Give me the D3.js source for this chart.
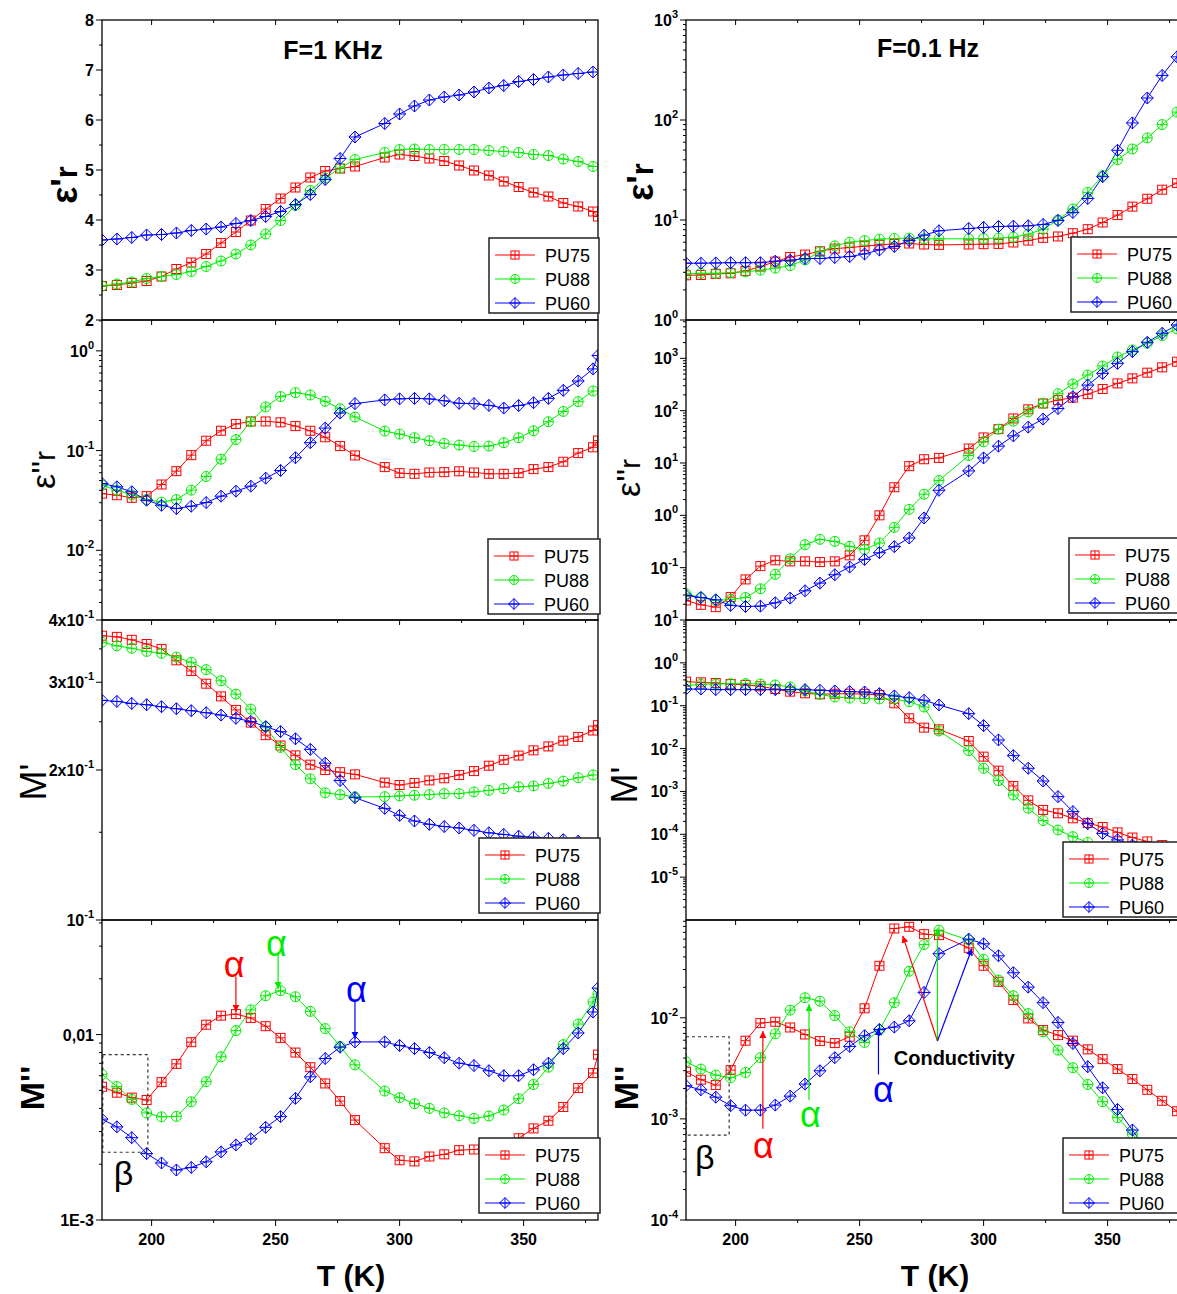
<!DOCTYPE html>
<html>
<head>
<meta charset="utf-8">
<title>PU dielectric / modulus</title>
<script src="https://cdnjs.cloudflare.com/ajax/libs/d3/7.8.5/d3.min.js"></script>
<style>
  body { margin: 0; background: #fff; }
  svg { display: block; font-family: "Liberation Sans", Arial, sans-serif; }
</style>
</head>
<body>
<script>
// temperature grid (K), 288 K was not measured
const T = [180,186,192,198,204,210,216,222,228,234,240,246,252,258,264,270,276,282,
           294,300,306,312,318,324,330,336,342,348,354,360,366,372,378,380];
const names = ['PU75', 'PU88', 'PU60'];
const colors = ['#ff0000', '#00ee00', '#0000ff'];

// F = 1 kHz
const eps1k_PU75 = [2.68,2.70,2.74,2.78,2.87,3.02,3.15,3.32,3.54,3.76,3.99,4.22,4.43,4.65,4.85,4.98,5.03,5.07,
  5.25,5.31,5.28,5.23,5.18,5.09,4.99,4.89,4.77,4.66,4.55,4.47,4.34,4.27,4.17,4.07];
const eps1k_PU88 = [2.68,2.72,2.76,2.83,2.87,2.91,2.97,3.07,3.18,3.32,3.50,3.72,3.99,4.29,4.59,4.84,5.04,5.21,
  5.35,5.41,5.42,5.41,5.41,5.41,5.41,5.39,5.37,5.35,5.31,5.29,5.22,5.17,5.07,null];
const eps1k_PU60 = [3.60,3.62,3.65,3.70,3.71,3.74,3.79,3.82,3.86,3.93,3.99,4.07,4.17,4.31,4.51,4.81,5.23,5.66,
  5.93,6.12,6.28,6.40,6.46,6.50,6.56,6.64,6.69,6.77,6.81,6.86,6.90,6.93,6.96,null];

const epsL1k_PU75 = [0.037,0.0357,0.0336,0.0349,0.0457,0.0622,0.090,0.1255,0.158,0.185,0.196,0.196,0.192,0.176,0.158,0.136,0.111,0.0894,
  0.0683,0.0594,0.0585,0.0603,0.0608,0.062,0.0603,0.0585,0.0585,0.0594,0.0652,0.0683,0.0773,0.0944,0.108,0.126];
const epsL1k_PU88 = [0.045,0.0401,0.036,0.0323,0.0304,0.0323,0.0401,0.055,0.082,0.129,0.195,0.274,0.348,0.381,0.361,0.312,0.263,0.217,
  0.157,0.1465,0.1346,0.1255,0.118,0.1136,0.110,0.111,0.12,0.1346,0.158,0.195,0.247,0.31,0.396,null];
const epsL1k_PU60 = [0.0468,0.0433,0.0386,0.0318,0.0283,0.0262,0.0277,0.0301,0.0349,0.0392,0.044,0.0529,0.0632,0.0848,0.12,0.168,0.238,0.296,
  0.322,0.330,0.334,0.33,0.316,0.298,0.296,0.284,0.267,0.283,0.302,0.334,0.402,0.499,0.659,0.898];

const mod1k_PU75 = [0.372,0.370,0.365,0.358,0.350,0.332,0.316,0.298,0.281,0.264,0.249,0.235,0.224,0.214,0.205,0.200,0.198,0.196,
  0.1887,0.1866,0.1884,0.1906,0.1925,0.1954,0.199,0.204,0.2096,0.2138,0.219,0.223,0.229,0.233,0.240,0.246];
const mod1k_PU88 = [0.361,0.355,0.351,0.346,0.343,0.337,0.329,0.318,0.302,0.284,0.265,0.244,0.222,0.205,0.192,0.180,0.1785,0.1766,
  0.1768,0.1774,0.178,0.1785,0.1793,0.1793,0.1807,0.182,0.1835,0.185,0.1858,0.188,0.190,0.193,0.1955,null];
const mod1k_PU60 = [0.276,0.2746,0.272,0.2704,0.2679,0.2654,0.263,0.2606,0.2578,0.254,0.2503,0.2443,0.2388,0.231,0.220,0.2064,0.1905,0.176,
  0.1675,0.1622,0.158,0.1556,0.154,0.153,0.1513,0.1496,0.1485,0.1473,0.1466,0.1458,0.1449,0.1439,0.1418,null];

const loss1k_PU75 = [0.00523,0.00486,0.00457,0.00444,0.00554,0.00695,0.0091,0.0113,0.01265,0.0129,0.0123,0.0111,0.0096,0.0080,0.00667,0.00545,0.00438,0.00346,
  0.00244,0.0021,0.00207,0.0022,0.00226,0.00238,0.0024,0.00245,0.0025,0.00276,0.00312,0.00343,0.00407,0.00515,0.0062,0.0078];
const loss1k_PU88 = [0.0061,0.00525,0.00447,0.00378,0.0036,0.00362,0.00434,0.00557,0.00759,0.0105,0.0136,0.0162,0.01724,0.016,0.01334,0.01077,0.00865,0.00687,
  0.00496,0.00457,0.00424,0.004,0.00378,0.00365,0.00353,0.00364,0.00392,0.00451,0.00538,0.00667,0.00883,0.0114,0.01498,0.01655];
const loss1k_PU60 = [0.0035,0.00318,0.00278,0.00228,0.00203,0.00186,0.00192,0.00206,0.00233,0.00254,0.00274,0.00316,0.00361,0.00453,0.00592,0.00743,0.00855,0.00913,
  0.00913,0.00873,0.0084,0.008,0.0075,0.00701,0.00681,0.00638,0.006,0.006,0.00646,0.00701,0.0084,0.0102,0.01324,0.0178];

// F = 0.1 Hz
const eps01_PU75 = [2.80,2.82,2.89,2.93,3.10,3.42,3.84,4.27,4.51,4.87,5.18,5.30,5.47,5.64,5.77,5.82,5.69,5.64,
  5.69,5.73,5.77,5.96,6.23,6.63,6.84,7.38,8.09,9.44,11.2,13.6,16.3,20.1,23.4,null];
const eps01_PU88 = [2.89,2.93,2.93,2.98,3.03,3.15,3.30,3.50,3.99,4.80,5.51,6.00,6.23,6.43,6.53,6.58,6.48,6.48,
  6.48,6.53,6.58,6.73,7.21,8.09,10.0,12.9,18.9,27.7,40.1,51.3,66.2,90.0,120,null];
const eps01_PU60 = [3.70,3.70,3.72,3.74,3.74,3.74,3.87,3.96,4.12,4.12,4.21,4.31,4.58,5.02,5.43,6.23,7.05,7.80,
  8.22,8.42,8.61,8.68,8.75,9.02,9.89,11.9,16.4,27.1,49.8,93.5,166,279,428,null];

const epsL01_PU75 = [0.0236,0.0195,0.0176,0.0274,0.0596,0.107,0.138,0.132,0.132,0.128,0.132,0.172,0.333,1.0,3.44,8.7,11.8,12.5,
  18.9,30.8,44.4,71,106,137,159,177,207,259,332,414,532,673,863,null];
const epsL01_PU88 = [0.0316,0.0269,0.0236,0.0247,0.0269,0.0395,0.0744,0.148,0.275,0.348,0.318,0.255,0.224,0.296,0.589,1.30,2.53,4.62,
  13.9,25.4,44.4,63,95,138,211,323,480,713,1061,1445,1938,2717,3645,null];
const epsL01_PU60 = [0.0294,0.0269,0.0243,0.019,0.0181,0.0184,0.0213,0.0262,0.0361,0.0507,0.0732,0.103,0.144,0.193,0.252,0.369,0.891,3.01,
  7.06,12.5,21,33,48.5,69,110,185,308,516,802,1342,2025,3010,4350,null];

const mod01_PU75 = [0.364,0.351,0.339,0.321,0.305,0.284,0.245,0.213,0.195,0.184,0.19,0.19,0.187,0.178,0.114,0.0508,0.0308,0.0281,
  0.0150,0.00648,0.00305,0.00134,0.00062,0.00037,0.000309,0.000236,0.000183,0.000148,0.000111,8.4e-5,6.8e-5,5.6e-5,3.4e-5,null];
const mod01_PU88 = [0.294,0.316,0.321,0.327,0.327,0.321,0.305,0.274,0.221,0.184,0.16,0.151,0.146,0.144,0.144,0.124,0.0934,0.0257,
  0.00895,0.00347,0.00179,0.000828,0.000405,0.000209,0.000126,8.8e-5,6.5e-5,4.8e-5,3.5e-5,2.5e-5,1.8e-5,1.35e-5,1.0e-5,null];
const mod01_PU60 = [0.245,0.245,0.237,0.237,0.237,0.237,0.237,0.237,0.237,0.229,0.221,0.213,0.209,0.191,0.169,0.154,0.134,0.104,
  0.0653,0.0343,0.0159,0.00685,0.00347,0.00175,0.000756,0.000338,0.000177,0.000105,7.4e-5,5.6e-5,4.2e-5,3.1e-5,2.1e-5,null];

const loss01_PU75 = [0.00293,0.00244,0.00216,0.00304,0.00593,0.00886,0.00913,0.00802,0.00684,0.00588,0.00562,0.00649,0.0124,0.0327,0.0764,0.0794,0.0672,0.0657,
  0.0492,0.0327,0.0227,0.015,0.00985,0.00755,0.00674,0.00593,0.00487,0.0039,0.00311,0.00248,0.00194,0.00151,0.00119,null];
const loss01_PU88 = [0.00367,0.00311,0.00271,0.00255,0.00288,0.00403,0.00695,0.0119,0.0158,0.0146,0.0105,0.00727,0.0057,0.00755,0.0141,0.0289,0.0531,0.0736,
  0.0586,0.0378,0.0236,0.0165,0.011,0.00727,0.00479,0.00321,0.00219,0.00148,0.00103,0.000709,0.00048,0.00033,0.00022,null];
const loss01_PU60 = [0.00213,0.00194,0.00164,0.00135,0.00122,0.00122,0.00137,0.00168,0.00221,0.00299,0.00403,0.00521,0.00664,0.00767,0.00809,0.00934,0.0178,0.043,
  0.06,0.0539,0.041,0.0279,0.0201,0.0141,0.00899,0.00557,0.00328,0.00203,0.00124,0.000776,0.00048,0.0003,0.00019,null];

// tick values and labels
const xTicks = [200, 250, 300, 350];
const xMinor = [225, 275, 325, 375];
const yt_eps1k = [2,3,4,5,6,7,8], yl_eps1k = ['2','3','4','5','6','7','8'];
const yt_epsL1k = [0.01,0.1,1], yl_epsL1k = ['10^-2','10^-1','10^0'];
const yt_mod1k = [0.1,0.2,0.3,0.4], yl_mod1k = ['10^-1','2x10^-1','3x10^-1','4x10^-1'];
const yt_loss1k = [0.001,0.01], yl_loss1k = ['1E-3','0,01'];
const yt_eps01 = [1,10,100,1000], yl_eps01 = ['10^0','10^1','10^2','10^3'];
const yt_epsL01 = [0.1,1,10,100,1000], yl_epsL01 = ['10^-1','10^0','10^1','10^2','10^3'];
const yt_mod01 = [1e-5,1e-4,1e-3,1e-2,0.1,1,10], yl_mod01 = ['10^-5','10^-4','10^-3','10^-2','10^-1','10^0','10^1'];
const yt_loss01 = [1e-4,1e-3,1e-2], yl_loss01 = ['10^-4','10^-3','10^-2'];

// layout
const W = 1177, H = 1294;
const colX = [102, 686], rowY = [20, 320, 620, 920];
const plotW = 496, plotH = 300;

const panels = [
  {col:0,row:0,log:false,domain:[2,8],ticks:yt_eps1k,labels:yl_eps1k,minor:[2.5,3.5,4.5,5.5,6.5,7.5],
   data:[eps1k_PU75,eps1k_PU88,eps1k_PU60],ylab:{x:77,y:185,main:'ε',pr:"'",sub:'r',size:36,bold:true},leg:[489,238,110]},
  {col:0,row:1,log:true,domain:[0.002,2.04],ticks:yt_epsL1k,labels:yl_epsL1k,
   data:[epsL1k_PU75,epsL1k_PU88,epsL1k_PU60],ylab:{x:55,y:470,main:'ε',pr:"''",sub:'r',size:34,bold:false},leg:[488,539,112]},
  {col:0,row:2,log:true,domain:[0.1,0.4],ticks:yt_mod1k,labels:yl_mod1k,minor:[0.15,0.25,0.35],
   data:[mod1k_PU75,mod1k_PU88,mod1k_PU60],ylab:{x:46,y:782,main:'M',pr:"'",sub:'',size:36,bold:false},leg:[479,838,121]},
  {col:0,row:3,log:true,domain:[0.001,0.0415],ticks:yt_loss1k,labels:yl_loss1k,
   data:[loss1k_PU75,loss1k_PU88,loss1k_PU60],ylab:{x:44,y:1088,main:'M',pr:"''",sub:'',size:34,bold:true},leg:[479,1138,121]},
  {col:1,row:0,log:true,domain:[1,1000],ticks:yt_eps01,labels:yl_eps01,
   data:[eps01_PU75,eps01_PU88,eps01_PU60],ylab:{x:653,y:182,main:'ε',pr:"'",sub:'r',size:36,bold:true},leg:[1071,237,120]},
  {col:1,row:1,log:true,domain:[0.01,5400],ticks:yt_epsL01,labels:yl_epsL01,
   data:[epsL01_PU75,epsL01_PU88,epsL01_PU60],ylab:{x:640,y:478,main:'ε',pr:"''",sub:'r',size:34,bold:false},leg:[1069,538,120]},
  {col:1,row:2,log:true,domain:[1e-6,10],ticks:yt_mod01,labels:yl_mod01,
   data:[mod01_PU75,mod01_PU88,mod01_PU60],ylab:{x:637,y:785,main:'M',pr:"'",sub:'',size:36,bold:false},leg:[1063,842,120]},
  {col:1,row:3,log:true,domain:[1e-4,0.0927],ticks:yt_loss01,labels:yl_loss01,
   data:[loss01_PU75,loss01_PU88,loss01_PU60],ylab:{x:638,y:1088,main:'M',pr:"''",sub:'',size:34,bold:true},leg:[1063,1138,120]}
];

// annotations (data coordinates: T, value)
const alphaLeft = [
  {c:0, t:233.3, v:0.0238, a0:[234,0.0206], a1:[234,0.0133]},
  {c:1, t:250.3, v:0.0311, a0:[251,0.0278], a1:[251,0.0176]},
  {c:2, t:282.6, v:0.0175, a0:[282,0.0154], a1:[282,0.0095]}
];
const alphaRight = [
  {c:0, t:211.2, v:0.00055, a0:[211,0.0008], a1:[211,0.0074]},
  {c:1, t:230.2, v:0.00112, a0:[229.6,0.00153], a1:[229.6,0.0136]},
  {c:2, t:259.6, v:0.00197, a0:[257.6,0.00275], a1:[257.6,0.0079]}
];
const condFrom = [281.4, 0.0059];
const condTo = [[267.4,0.0646],[281.4,0.0764],[295.3,0.0484]];

const svg = d3.select('body').append('svg').attr('width', W).attr('height', H);
const defs = svg.append('defs');
colors.forEach((c, i) => {
  defs.append('marker').attr('id', 'arr' + i)
    .attr('viewBox', '0 0 10 10').attr('refX', 10).attr('refY', 5)
    .attr('markerWidth', 7).attr('markerHeight', 8).attr('markerUnits', 'userSpaceOnUse')
    .attr('orient', 'auto')
    .append('path').attr('d', 'M0,0L10,5L0,10z').attr('fill', c);
});

function drawMarker(g, k, cx, cy, color, s) {
  s = s || 1;
  const m = g.append('g').attr('transform', `translate(${cx},${cy})`)
    .attr('fill', 'none').attr('stroke', color).attr('stroke-width', 1);
  let r;
  if (k === 0) { r = 4.5 * s; m.append('rect').attr('x', -r).attr('y', -r).attr('width', 2 * r).attr('height', 2 * r); }
  else if (k === 1) { r = 5 * s; m.append('circle').attr('r', r); }
  else { r = 6 * s; m.append('path').attr('d', `M0,${-r}L${r},0L0,${r}L${-r},0Z`); }
  m.append('line').attr('x1', -r).attr('x2', r);
  m.append('line').attr('y1', -r).attr('y2', r);
}

function tickLabel(g, x, y, s) {
  const t = g.append('text').attr('x', x).attr('y', y).attr('text-anchor', 'end')
    .attr('font-size', 16).attr('font-weight', 'bold');
  if (s.includes('^')) {
    const [b, sup] = s.split('^');
    t.append('tspan').text(b);
    t.append('tspan').attr('dy', -8).attr('font-size', 11).text(sup);
  } else t.text(s);
}

panels.forEach((p, pi) => {
  const x0 = colX[p.col], y0 = rowY[p.row];
  const x = d3.scaleLinear().domain([180, 380]).range([x0, x0 + plotW]);
  const y = (p.log ? d3.scaleLog() : d3.scaleLinear()).domain(p.domain).range([y0 + plotH, y0]);
  const g = svg.append('g');

  defs.append('clipPath').attr('id', 'clip' + pi)
    .append('rect').attr('x', x0).attr('y', y0).attr('width', plotW).attr('height', plotH);

  // y ticks, outward
  const yg = g.append('g').attr('stroke', '#000').attr('stroke-width', 1);
  p.ticks.forEach((v, i) => {
    yg.append('line').attr('x1', x0 - 6).attr('x2', x0).attr('y1', y(v)).attr('y2', y(v));
    tickLabel(g, x0 - 8, y(v) + 6, p.labels[i]);
  });
  let minor = p.minor;
  if (!minor) {
    minor = [];
    const lo = Math.floor(Math.log10(p.domain[0])), hi = Math.ceil(Math.log10(p.domain[1]));
    for (let e = lo; e < hi; e++) for (let k = 2; k <= 9; k++) {
      const v = k * Math.pow(10, e);
      if (v > p.domain[0] * 1.001 && v < p.domain[1] * 0.999) minor.push(v);
    }
  }
  minor.forEach(v => yg.append('line').attr('x1', x0 - 3).attr('x2', x0).attr('y1', y(v)).attr('y2', y(v)));

  // x ticks: inward on top, outward on bottom of the last row
  xTicks.forEach(t => yg.append('line').attr('x1', x(t)).attr('x2', x(t)).attr('y1', y0).attr('y2', y0 + 5));
  xMinor.forEach(t => yg.append('line').attr('x1', x(t)).attr('x2', x(t)).attr('y1', y0).attr('y2', y0 + 3));
  if (p.row === 3) {
    xTicks.forEach(t => {
      yg.append('line').attr('x1', x(t)).attr('x2', x(t)).attr('y1', y0 + plotH).attr('y2', y0 + plotH + 6);
      g.append('text').attr('x', x(t)).attr('y', 1245).attr('text-anchor', 'middle')
        .attr('font-size', 16).attr('font-weight', 'bold').text(t);
    });
    xMinor.forEach(t => yg.append('line').attr('x1', x(t)).attr('x2', x(t)).attr('y1', y0 + plotH).attr('y2', y0 + plotH + 3));
  }

  // series
  const plot = g.append('g').attr('clip-path', `url(#clip${pi})`);
  p.data.forEach((vals, k) => {
    const pts = T.map((t, i) => [t, vals[i]]).filter(d => d[1] != null);
    const line = d3.line().x(d => x(d[0])).y(d => y(d[1]));
    plot.append('path').attr('d', line(pts)).attr('fill', 'none')
      .attr('stroke', colors[k]).attr('stroke-width', 1);
  });
  p.data.forEach((vals, k) => {
    T.forEach((t, i) => { if (vals[i] != null) drawMarker(plot, k, x(t), y(vals[i]), colors[k]); });
  });

  // annotations on the M'' panels
  if (p.row === 3) {
    const al = p.col === 0 ? alphaLeft : alphaRight;
    const box = p.col === 0 ? [180.3, 198.5, 0.00232, 0.0078] : [180, 197.4, 0.00069, 0.00649];
    plot.append('rect').attr('x', x(box[0])).attr('y', y(box[3]))
      .attr('width', x(box[1]) - x(box[0])).attr('height', y(box[2]) - y(box[3]))
      .attr('fill', 'none').attr('stroke', '#333').attr('stroke-width', 1.2).attr('stroke-dasharray', '3,3');
    const beta = p.col === 0 ? [188.7, 0.0018] : [187.6, 0.00042];
    g.append('text').attr('x', x(beta[0])).attr('y', y(beta[1])).attr('dy', '0.35em')
      .attr('text-anchor', 'middle').attr('font-size', 34).text('β');
    al.forEach(a => {
      g.append('line').attr('x1', x(a.a0[0])).attr('y1', y(a.a0[1]))
        .attr('x2', x(a.a1[0])).attr('y2', y(a.a1[1]))
        .attr('stroke', colors[a.c]).attr('stroke-width', 1.2).attr('marker-end', `url(#arr${a.c})`);
      g.append('text').attr('x', x(a.t)).attr('y', y(a.v)).attr('dy', '0.35em')
        .attr('text-anchor', 'middle').attr('font-size', 36).attr('fill', colors[a.c]).text('α');
    });
    if (p.col === 1) {
      condTo.forEach((c, k) => {
        g.append('line').attr('x1', x(condFrom[0])).attr('y1', y(condFrom[1]))
          .attr('x2', x(c[0])).attr('y2', y(c[1]))
          .attr('stroke', colors[k]).attr('stroke-width', 1.2).attr('marker-end', `url(#arr${k})`);
      });
      g.append('text').attr('x', x(288.2)).attr('y', y(0.00398)).attr('dy', '0.35em')
        .attr('text-anchor', 'middle').attr('font-size', 20).attr('font-weight', 'bold').text('Conductivity');
    }
  }

  // frame
  g.append('rect').attr('x', x0).attr('y', y0).attr('width', plotW).attr('height', plotH)
    .attr('fill', 'none').attr('stroke', '#000').attr('stroke-width', 1.3);

  // legend
  const [lx, ly, lw] = p.leg;
  const lg = g.append('g');
  lg.append('rect').attr('x', lx).attr('y', ly).attr('width', lw).attr('height', 75)
    .attr('fill', '#fff').attr('stroke', '#222').attr('stroke-width', 1.5);
  names.forEach((n, k) => {
    const ry = ly + 17 + k * 24;
    lg.append('line').attr('x1', lx + 6).attr('x2', lx + 46).attr('y1', ry).attr('y2', ry)
      .attr('stroke', colors[k]).attr('stroke-width', 1);
    drawMarker(lg, k, lx + 26, ry, colors[k], 0.9);
    lg.append('text').attr('x', lx + 56).attr('y', ry + 6.5).attr('font-size', 18).text(n);
  });

  // y axis title
  const yl = p.ylab;
  const tt = svg.append('text').attr('transform', `translate(${yl.x},${yl.y}) rotate(-90)`)
    .attr('text-anchor', 'middle').attr('font-size', yl.size)
    .attr('font-weight', yl.bold ? 'bold' : 'normal');
  tt.append('tspan').text(yl.main);
  tt.append('tspan').text(yl.pr);
  if (yl.sub) tt.append('tspan').attr('font-size', yl.size * 0.85).text(yl.sub);
});

// titles
svg.append('text').attr('x', 333).attr('y', 59).attr('text-anchor', 'middle')
  .attr('font-size', 25).attr('font-weight', 'bold').text('F=1 KHz');
svg.append('text').attr('x', 928).attr('y', 57).attr('text-anchor', 'middle')
  .attr('font-size', 25).attr('font-weight', 'bold').text('F=0.1 Hz');
svg.append('text').attr('x', 351).attr('y', 1286).attr('text-anchor', 'middle')
  .attr('font-size', 30).attr('font-weight', 'bold').text('T (K)');
svg.append('text').attr('x', 935).attr('y', 1286).attr('text-anchor', 'middle')
  .attr('font-size', 30).attr('font-weight', 'bold').text('T (K)');
</script>
</body>
</html>
